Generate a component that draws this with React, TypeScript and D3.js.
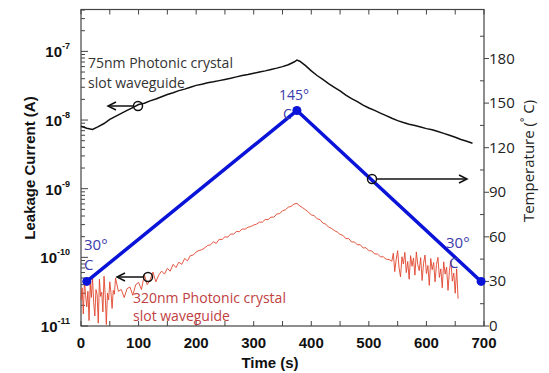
import * as d3 from "d3";
import React from 'react'

// leakage current, 75nm slot waveguide (units of 1e-9 A)
const blackTime = [0,10,20,30,40,50,60,70,80,90,100,110,120,130,140,150,160,170,180,190,200,210,220,230,240,250,260,270,280,290,300,310,320,330,340,350,360,370,375,380,390,400,410,420,430,440,450,460,470,480,490,500,510,520,530,540,550,560,570,580,590,600,610,620,630,640,650,660,670,680]
const blackCurrent = [8.1,7.6,7.3,8.0,8.9,10.2,11.3,12.5,13.8,15.2,16.8,17.6,19.0,20.2,21.8,23.5,25.0,26.8,28.2,30.0,32.0,33.2,34.8,36.0,37.5,39.0,40.5,42.5,44.5,46.0,48.0,50.0,52.0,54.5,57.0,60.0,64.0,70.0,74.5,72.0,62.0,52.0,44.5,39.0,34.0,30.0,26.5,23.0,20.5,18.5,16.5,15.0,13.8,12.6,11.6,10.6,9.8,9.2,8.7,8.3,7.9,7.5,7.2,6.8,6.4,6.0,5.6,5.2,4.9,4.6]

// leakage current, 320nm slot waveguide (units of 1e-11 A)
// 0–60 s sampled every 2 s
const redStart = [2.4,3.6,1.5,4.6,2.8,1.9,3.2,1.2,4.2,2.6,5.2,2.2,1.4,3.4,2.9,1.1,4.8,2.7,3.1,1.6,5.3,2.9,1.05,3.0,2.4,4.4,3.1,1.8,3.3,2.9,5.0]
// 65–535 s sampled every 5 s
const redMid = [3.2,3.4,2.6,3.5,3.7,2.8,4.0,4.3,3.4,5.6,4.0,4.7,6.1,4.4,5.5,6.3,5.7,6.9,6.3,7.9,7.1,8.5,7.9,9.6,8.9,10.6,10.8,12.0,12.6,12.9,13.8,14.9,15.2,16.9,16.0,18.3,18.2,19.9,19.7,21.9,21.7,23.9,23.6,25.9,25.7,27.5,28.1,29.6,30.5,32.6,32.5,35.6,35.4,38.6,38.4,42.8,43.3,47.8,49.2,53.8,55.2,59.8,61,56.2,52.8,49.3,45.8,41.4,40.6,36.5,35.4,31.6,30.5,27.6,26.4,24.6,23.4,21.6,20.9,18.7,18.8,16.7,16.8,15.2,15.3,13.7,13.8,12.5,12.4,11.2,11.2,10.2,10.2,9.4,9.3]
// 540–655 s sampled every 2.5 s
const redEnd = [8.8,11.5,6.2,9.4,12.5,7.0,5.2,10.2,8.0,11.8,6.0,8.7,4.8,10.6,7.4,9.8,5.5,12.0,7.8,6.4,9.9,4.6,8.2,10.8,5.8,7.6,3.9,9.6,6.6,8.4,4.4,7.9,10.0,5.1,6.8,3.6,8.6,5.7,7.2,3.3,6.5,8.9,4.5,5.9,3.0,6.8,2.5]

// temperature profile
const tempTime = [10, 375, 695]
const tempValue = [30, 145, 30]

const xTicks = [0,100,200,300,400,500,600,700]
const leftTickExp = [-7,-8,-9,-10,-11]
const rightTicks = [0,30,60,90,120,150,180]

const W = 549, H = 373
const L = 81, R = 484, T = 9.5, B = 326

const App: React.FC = () => {
  const x = d3.scaleLinear([0, 700], [L, R])
  const y = d3.scaleLog([1e-11, Math.pow(10, -6.39)], [B, T])
  const yT = d3.scaleLinear([0, 213], [B, T])

  const black = blackTime.map((t, i) => [t, blackCurrent[i] * 1e-9] as [number, number])
  const red = [
    ...redStart.map((v, i) => [i * 2, v]),
    ...redMid.map((v, i) => [65 + i * 5, v]),
    ...redEnd.map((v, i) => [540 + i * 2.5, v]),
  ].map(d => [d[0], d[1] * 1e-11] as [number, number])
  const temp = tempTime.map((t, i) => [t, tempValue[i]] as [number, number])

  const lineL = d3.line<[number, number]>().x(d => x(d[0])).y(d => y(d[1]))
  const lineT = d3.line<[number, number]>().x(d => x(d[0])).y(d => yT(d[1]))

  const minorLog: number[] = []
  for (let e = -11; e < -6; e++) for (let m = 2; m <= 9; m++) {
    const v = m * Math.pow(10, e)
    if (y(v) >= T) minorLog.push(v)
  }
  const xMinor = d3.range(0, 701, 50)
  const tMinor = d3.range(15, 213, 30)

  const calibri = "'Open Sans', 'Noto Sans', sans-serif"
  const arial = "'Liberation Sans', Arial, sans-serif"
  const blueText = "#3b3bab"

  const arrow = (x1: number, y1: number, x2: number, key: string) => {
    const dir = x2 > x1 ? 1 : -1
    return (
      <g key={key} stroke="#111" strokeWidth={1.5} fill="none">
        <circle cx={x1} cy={y1} r={4.5} />
        <line x1={x1 + dir * 4.5} y1={y1} x2={x2} y2={y1} />
        <polyline points={`${x2 - dir * 8},${y1 - 4} ${x2},${y1} ${x2 - dir * 8},${y1 + 4}`} />
      </g>
    )
  }

  return (
    <svg width={W} height={H} style={{ position: 'absolute', left: 0, top: 0, background: '#fff' }}>
      {/* frame */}
      <rect x={L} y={T} width={R - L} height={B - T} fill="none" stroke="#444" strokeWidth={1.2} />

      {/* bottom / top ticks */}
      {xMinor.map(v => <g key={'xt' + v} stroke="#444">
        <line x1={x(v)} x2={x(v)} y1={B} y2={B - 5} />
        <line x1={x(v)} x2={x(v)} y1={T} y2={T + 5} />
      </g>)}
      {xTicks.map(v => <text key={'xl' + v} x={x(v)} y={348} textAnchor="middle" fontFamily={arial} fontWeight="bold" fontSize={15} fill="#111">{v}</text>)}
      <text x={270} y={368} textAnchor="middle" fontFamily={arial} fontWeight="bold" fontSize={15} fill="#111">Time (s)</text>

      {/* left log axis */}
      {leftTickExp.map(e => <line key={'lt' + e} x1={L} x2={L + 7} y1={y(Math.pow(10, e))} y2={y(Math.pow(10, e))} stroke="#444" />)}
      {minorLog.map(v => <line key={'lm' + v} x1={L} x2={L + 4} y1={y(v)} y2={y(v)} stroke="#444" />)}
      {leftTickExp.map(e => (
        <text key={'ll' + e} x={70} y={y(Math.pow(10, e)) + 6} textAnchor="end" fontFamily={arial} fontWeight="bold" fontSize={15} fill="#111">
          10<tspan dy={-8} fontSize={9}>{e}</tspan>
        </text>
      ))}
      <text transform={`translate(35,168) rotate(-90)`} textAnchor="middle" fontFamily={arial} fontWeight="bold" fontSize={15} fill="#111">Leakage Current (A)</text>

      {/* right temperature axis */}
      {rightTicks.map(v => <line key={'rt' + v} x1={R} x2={R + 5} y1={yT(v)} y2={yT(v)} stroke="#444" />)}
      {tMinor.map(v => <line key={'rm' + v} x1={R - 4} x2={R} y1={yT(v)} y2={yT(v)} stroke="#444" />)}
      {rightTicks.map(v => <text key={'rl' + v} x={489} y={yT(v) + 5} fontFamily={calibri} fontSize={15} fill="#222">{v}</text>)}
      <text transform={`translate(534,161) rotate(-90)`} textAnchor="middle" fontFamily={calibri} fontSize={15} fill="#222">
        Temperature (<tspan dy={-6} fontSize={10}>°</tspan><tspan dy={6}> C)</tspan>
      </text>

      {/* data */}
      <path d={lineL(red) ?? ''} fill="none" stroke="#e0442c" strokeWidth={0.9} />
      <path d={lineL(black) ?? ''} fill="none" stroke="#111" strokeWidth={1.5} />
      <path d={lineT(temp) ?? ''} fill="none" stroke="#0a14d8" strokeWidth={3.5} />
      {temp.map(d => <circle key={'td' + d[0]} cx={x(d[0])} cy={yT(d[1])} r={4.5} fill="#0a14d8" />)}

      {/* annotations */}
      {arrow(138, 106, 108, 'a1')}
      {arrow(148, 277, 117, 'a2')}
      {arrow(372, 179, 467, 'a3')}

      <text fontFamily={calibri} fontSize={14} fill="#333">
        <tspan x={88} y={68}>75nm Photonic crystal</tspan>
        <tspan x={88} y={88}>slot waveguide</tspan>
      </text>
      <text fontFamily={calibri} fontSize={14} fill="#c0413f">
        <tspan x={133} y={303}>320nm Photonic crystal</tspan>
        <tspan x={133} y={321}>slot waveguide</tspan>
      </text>

      <text x={279} y={100} fontFamily={calibri} fontSize={14} fill={blueText}>145°</text>
      <text x={283} y={119} fontFamily={calibri} fontSize={14} fill={blueText}>C</text>
      <text x={84} y={250} fontFamily={calibri} fontSize={15} fill={blueText}>30°</text>
      <text x={84} y={270} fontFamily={calibri} fontSize={15} fill={blueText}>C</text>
      <text x={446} y={248} fontFamily={calibri} fontSize={15} fill={blueText}>30°</text>
      <text x={449} y={268} fontFamily={calibri} fontSize={15} fill={blueText}>C</text>
    </svg>
  )
}

export default App
